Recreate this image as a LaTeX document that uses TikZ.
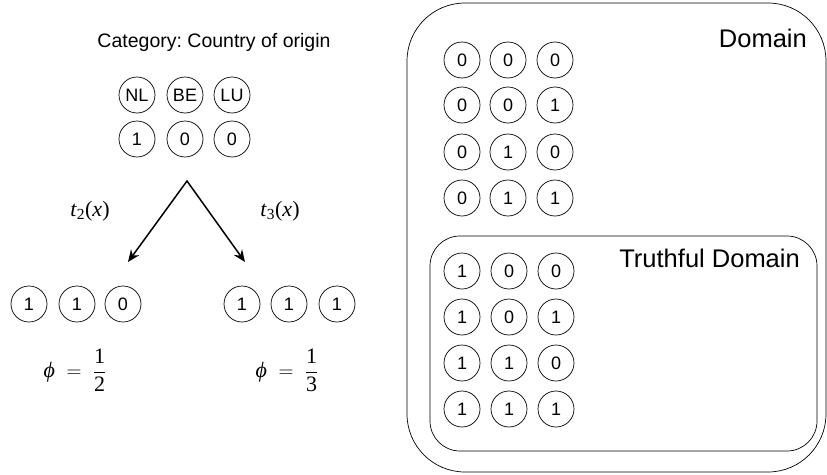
\documentclass[tikz,border=0pt]{standalone}
\usepackage{fontspec}
\setmainfont{Liberation Serif}
\newfontfamily\hv{Liberation Sans}
\usetikzlibrary{arrows.meta}
\frenchspacing
\begin{document}
\begin{tikzpicture}[x=1pt,y=-1pt,
  bit/.style={circle,draw,line width=0.7pt,minimum size=36pt,inner sep=0pt,font=\hv\fontsize{18}{18}\selectfont},
  lbl/.style={font=\hv\fontsize{25.5}{25.5}\selectfont,inner sep=0pt},
  mlbl/.style={font=\fontsize{22}{22}\selectfont,inner sep=0pt},
  flbl/.style={font=\fontsize{22}{22}\selectfont,inner sep=0pt},
  arr/.style={line width=1.5pt,{Stealth[length=12pt,width=10pt]}-{Stealth[length=12pt,width=10pt]}},
  box/.style={draw,line width=0.7pt}]
\useasboundingbox (0,0) rectangle (827,474);
% left part
\node[font=\hv\fontsize{19.5}{19.5}\selectfont,inner sep=0pt] (title) at (214,42) {Category: Country of origin};
\node[bit] (nl) at (137,95) {NL};
\node[bit] (be) at (185,95) {BE};
\node[bit] (lu) at (232,95) {LU};
\node[bit] (v1) at (137,139) {1};
\node[bit] (v2) at (185,139) {0};
\node[bit] (v3) at (232,139) {0};
\coordinate (apex) at (187,181);
\coordinate (lend) at (128,262);
\coordinate (rend) at (245,262);
\draw[arr,line join=miter] (lend) -- (apex) -- (rend);
\node[mlbl] (t2) at (90,211) {\textit{t}\textsubscript{2}(\textit{x})};
\node[mlbl] (t3) at (280,211) {\textit{t}\textsubscript{3}(\textit{x})};
\node[bit] (a1) at (29,304) {1};
\node[bit] (a2) at (77,304) {1};
\node[bit] (a3) at (123,304) {0};
\node[bit] (b1) at (242,304) {1};
\node[bit] (b2) at (289,304) {1};
\node[bit] (b3) at (337,304) {1};
\node[flbl] (phi1) at (75,370) {$\displaystyle \mbox{\itshape ϕ}\;=\;\frac{\mbox{1}}{\mbox{2}}$};
\node[flbl] (phi2) at (287,370) {$\displaystyle \mbox{\itshape ϕ}\;=\;\frac{\mbox{1}}{\mbox{3}}$};
% right part
\draw[box,rounded corners=58pt] (407,3) rectangle (826,472);
\node[lbl,anchor=east] (dom) at (807,38) {Domain};
\foreach \r/\y/\a/\b/\c in {1/60/0/0/0,2/105/0/0/1,3/152/0/1/0,4/198/0/1/1}{
  \node[bit] (d\r a) at (462,\y) {\a};
  \node[bit] (d\r b) at (508,\y) {\b};
  \node[bit] (d\r c) at (555,\y) {\c};
}
\draw[box,rounded corners=30pt] (430,236) rectangle (817,451);
\node[lbl,anchor=east] (tdom) at (800,258) {Truthful Domain};
\foreach \r/\y/\a/\b/\c in {1/271/1/0/0,2/317/1/0/1,3/363/1/1/0,4/409/1/1/1}{
  \node[bit] (e\r a) at (462,\y) {\a};
  \node[bit] (e\r b) at (509,\y) {\b};
  \node[bit] (e\r c) at (556,\y) {\c};
}
\end{tikzpicture}
\end{document}
